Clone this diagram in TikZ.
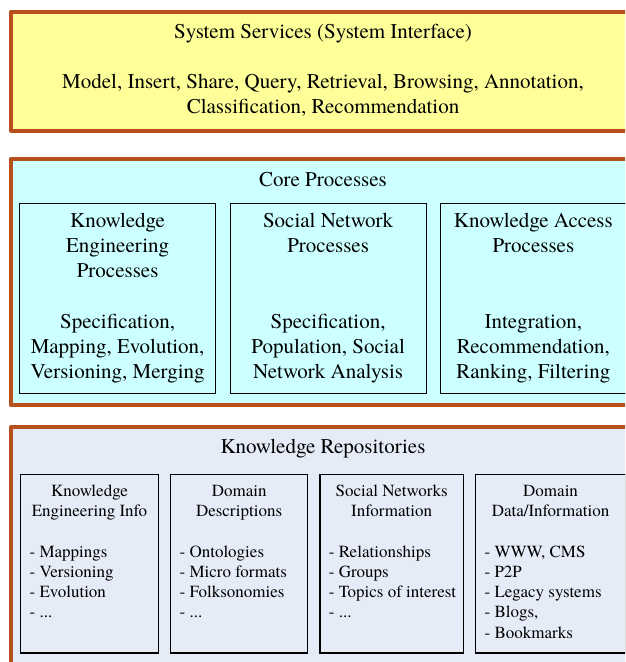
\documentclass[tikz,border=0pt]{standalone}
\usepackage{fontspec}
\setmainfont{texgyretermes}[Extension=.otf,UprightFont=*-regular,BoldFont=*-bold,ItalicFont=*-italic,BoldItalicFont=*-bolditalic]
\usepackage{tikz}
\usetikzlibrary{positioning}
\definecolor{rim}{RGB}{184,80,30}
\definecolor{svcfill}{RGB}{255,255,153}
\definecolor{corefill}{RGB}{204,255,255}
\definecolor{repfill}{RGB}{229,235,247}
\newcommand{\largetxt}{\fontsize{21}{25.3}\selectfont}
\newcommand{\smalltxt}{\fontsize{17}{20.3}\selectfont}

\begin{document}
\begin{tikzpicture}[x=1pt,y=-1pt,outer sep=0pt,
  layer/.style={draw=rim,line width=4pt,line join=round,anchor=north west,minimum width=624pt},
  proc/.style={draw,line width=1.2pt,anchor=north west,minimum width=196pt,minimum height=189.8pt},
  repo/.style={draw,line width=1.2pt,anchor=north west,minimum height=178.3pt},
  head/.style={anchor=north,inner sep=0pt,align=center,font=\largetxt},
  minor/.style={anchor=north,inner sep=0pt,align=center,font=\smalltxt},
  items/.style={anchor=north west,inner sep=0pt,align=left,font=\smalltxt}]
\useasboundingbox (0,0) rectangle (625,662);
\clip (0,0) rectangle (625,662);
\node[layer,fill=svcfill,minimum height=119.2pt] (svc) at (11,11.5) {};
\node[head] (svctxt) at (323,20.3) {\strut System Services (System Interface)\\[25.3pt]Model, Insert, Share, Query, Retrieval, Browsing, Annotation,\\Classification, Recommendation};
\node[layer,fill=corefill,minimum height=246.5pt] (core) at (11,158.7) {};
\node[head] (coretxt) at (323,168.3) {\strut Core Processes};
\node[proc] (kep) at (19.6,203.6) {};
\node[proc,right=14.5pt of kep] (snp) {};
\node[proc,right=14.5pt of snp,minimum width=185.5pt] (kap) {};
\node[head,below=5.7pt of kep.north] (keptxt) {\strut Knowledge\\Engineering\\Processes\\[25.3pt]Specification,\\Mapping, Evolution,\\Versioning, Merging};
\node[head,below=5.7pt of snp.north] (snptxt) {\strut Social Network\\Processes\\[50.6pt]Specification,\\Population, Social\\Network Analysis};
\node[head,below=5.7pt of kap.north] (kaptxt) {\strut Knowledge Access\\Processes\\[50.6pt]Integration,\\Recommendation,\\Ranking, Filtering};
\node[layer,fill=repfill,minimum height=260pt] (rep) at (11,427) {};
\node[head] (reptxt) at (323,435.3) {\strut Knowledge Repositories};
\node[repo,minimum width=137.8pt] (kei) at (20.6,474.6) {};
\node[repo,right=12.2pt of kei,minimum width=137.1pt] (dd) {};
\node[repo,right=12.2pt of dd,minimum width=143.5pt] (sni) {};
\node[repo,right=12.2pt of sni,minimum width=150pt] (ddi) {};
\node[minor,below=7.2pt of kei.north] (keititle) {\strut Knowledge\\Engineering Info};
\node[minor,below=7.2pt of dd.north] (ddtitle) {\strut Domain\\Descriptions};
\node[minor,below=7.2pt of sni.north] (snititle) {\strut Social Networks\\Information};
\node[minor,below=7.2pt of ddi.north] (ddititle) {\strut Domain\\Data/Information};
\node[items,below right=68.2pt and 9pt of kei.north west] (keilist) {\strut - Mappings\\- Versioning\\- Evolution\\- ...};
\node[items,below right=68.2pt and 9pt of dd.north west] (ddlist) {\strut - Ontologies\\- Micro formats\\- Folksonomies\\- ...};
\node[items,below right=68.2pt and 9pt of sni.north west] (snilist) {\strut - Relationships\\- Groups\\- Topics of interest\\- ...};
\node[items,below right=68.2pt and 9pt of ddi.north west] (ddilist) {\strut - WWW, CMS\\- P2P\\- Legacy systems\\- Blogs,\\- Bookmarks};
\end{tikzpicture}
\end{document}
